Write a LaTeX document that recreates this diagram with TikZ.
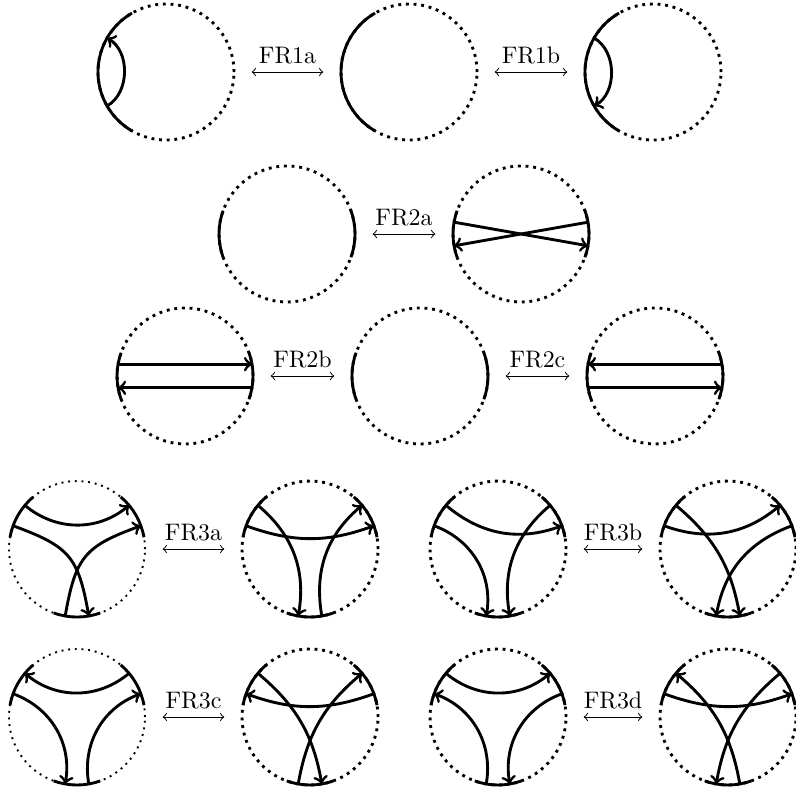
\documentclass[tikz,border=0pt]{standalone}

\tikzset{
  disk/.style={circle, draw, dotted, very thick, minimum size=2cm, inner sep=0pt, outer sep=0pt},
  faint disk/.style={disk, thick},
  seg/.style={very thick},
  strand/.style={very thick, ->},
  frmove/.style={<->, shorten <=0.26cm, shorten >=0.26cm}
}

\begin{document}
\begin{tikzpicture}
  \useasboundingbox (0,0) rectangle (11.706,-11.618);

  % circles
  \foreach \nm/\x/\y in {p1/2.441/-1.059, p2/6.015/-1.059, p3/9.603/-1.059,
      q1/4.221/-3.441, q2/7.662/-3.441,
      r1/2.721/-5.529, r2/6.176/-5.529, r3/9.632/-5.529,
      s2/4.559/-8.074, s3/7.324/-8.074, s4/10.706/-8.074,
      t2/4.559/-10.544, t3/7.324/-10.544, t4/10.706/-10.544}
    \node[disk] (\nm) at (\x,\y) {};
  \node[faint disk] (s1) at (1.132,-8.074) {};
  \node[faint disk] (t1) at (1.132,-10.544) {};

  % solid boundary arcs
  \foreach \c in {p1,p2,p3}
    \draw[seg] (\c.120) arc[start angle=120, end angle=240, radius=1cm];
  \foreach \c in {q1,q2,r1,r2,r3} {
    \draw[seg] (\c.160) arc[start angle=160, end angle=200, radius=1cm];
    \draw[seg] (\c.340) arc[start angle=-20, end angle=20, radius=1cm];
  }
  \foreach \c in {s1,s2,s3,s4,t1,t2,t3,t4} {
    \draw[seg] (\c.130) arc[start angle=130, end angle=170, radius=1cm];
    \draw[seg] (\c.10) arc[start angle=10, end angle=50, radius=1cm];
    \draw[seg] (\c.250) arc[start angle=250, end angle=290, radius=1cm];
  }

  % curved strands (leave and enter radially)
  \foreach \c/\a/\b [evaluate=\a as \ao using \a+180, evaluate=\b as \bi using \b+180] in {
      p1/210/150, p3/150/210,
      s1/140/40,
      s2/140/260, s2/160/20, s2/280/40,
      s3/140/20, s3/160/260, s3/40/280,
      s4/140/280, s4/160/40, s4/20/260,
      t1/40/140, t1/160/260, t1/280/20,
      t2/140/280, t2/20/160, t2/260/40,
      t3/140/40, t3/260/160, t3/20/280,
      t4/280/140, t4/160/20, t4/40/260}
    \draw[strand] (\c.\a) to[out=\ao, in=\bi] (\c.\b);
  \draw[strand] (s1.160) to[out=-20, in=100, looseness=1.3] (s1.280);
  \draw[strand] (s1.260) to[out=80, in=200, looseness=1.3] (s1.20);

  % straight strands
  \foreach \c/\a/\b in {q2/170/350, q2/10/190, r1/170/10, r1/350/190, r3/10/170, r3/190/350}
    \draw[strand] (\c.\a) -- (\c.\b);

  % moves
  \foreach \u/\v/\lbl in {p1/p2/FR1a, p2/p3/FR1b, q1/q2/FR2a, r1/r2/FR2b, r2/r3/FR2c,
      s1/s2/FR3a, s3/s4/FR3b, t1/t2/FR3c, t3/t4/FR3d}
    \draw[frmove] (\u) -- (\v) node[midway, above] {\lbl};
\end{tikzpicture}
\end{document}
